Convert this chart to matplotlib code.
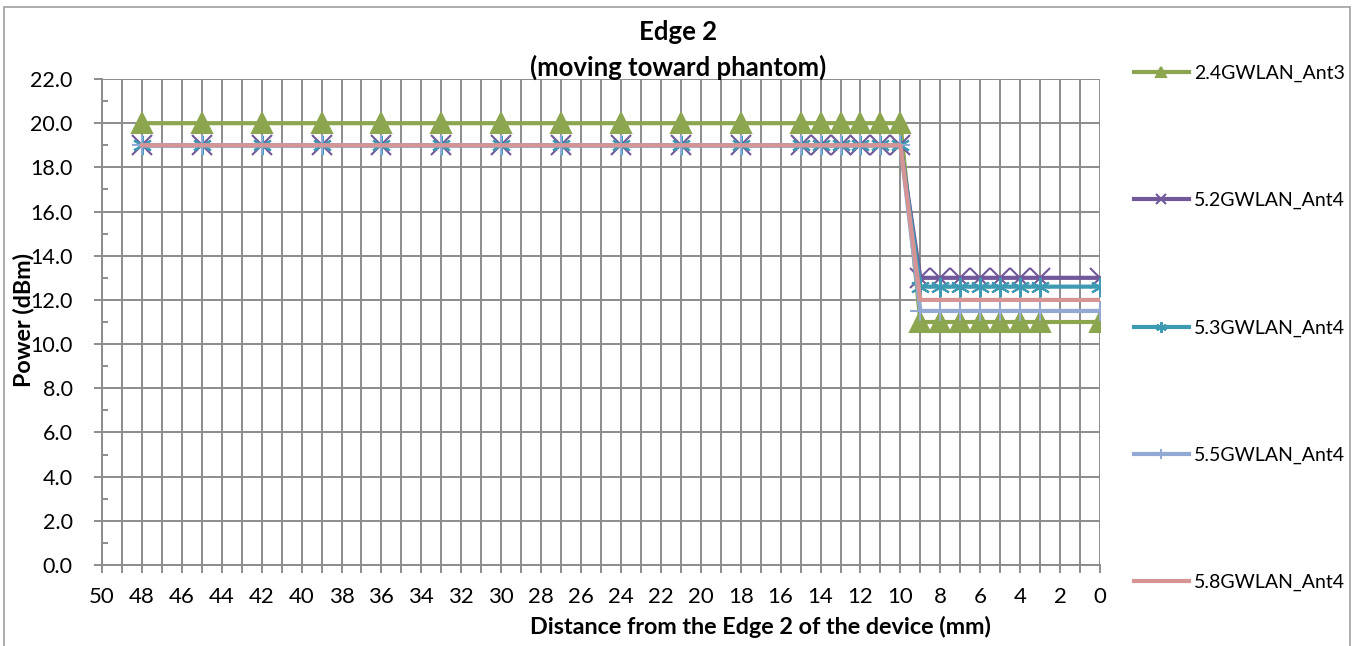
import numpy as np
import matplotlib
matplotlib.use("Agg")
import matplotlib.pyplot as plt
from matplotlib.patches import Rectangle

plt.rcParams['font.family'] = ['Lato', 'DejaVu Sans']

#%% data

dist = [48, 45, 42, 39, 36, 33, 30, 27, 24, 21, 18, 15, 14, 13, 12, 11, 10,
        9, 8, 7, 6, 5, 4, 3, 0]
n_far = 17   # points at 10 mm and beyond
n_near = 8   # points at 9 mm and closer

wlan24_ant3 = [20.0] * n_far + [11.0] * n_near
wlan52_ant4 = [19.0] * n_far + [13.0] * n_near
wlan53_ant4 = [19.0] * n_far + [12.6] * n_near
wlan55_ant4 = [19.0] * n_far + [11.5] * n_near
wlan58_ant4 = [19.0] * n_far + [12.0] * n_near

series = [
    ("2.4GWLAN_Ant3", wlan24_ant3, "#8BA64F", "^"),
    ("5.2GWLAN_Ant4", wlan52_ant4, "#71589B", "x"),
    ("5.3GWLAN_Ant4", wlan53_ant4, "#3E9AB3", (6, 2, 0)),
    ("5.5GWLAN_Ant4", wlan55_ant4, "#91A9D3", "+"),
    ("5.8GWLAN_Ant4", wlan58_ant4, "#D69594", None),
]

#%% plot

W, H = 1359, 646
fig = plt.figure(figsize=(W / 100, H / 100), dpi=100)
ax = fig.add_axes([102 / W, 1 - 565 / H, (1100 - 102) / W, (565 - 79) / H])

for name, vals, col, mk in series:
    ax.plot(dist, vals, color=col, lw=3, marker=mk, ms=14, mew=1.5,
            mfc=col, mec=col, label=name, zorder=3)

gridcol = "#8C8C8C"
ax.set_xlim(50, 0)
ax.set_ylim(0, 22)
ax.set_xticks(np.arange(0, 51, 2))
ax.set_xticks(np.arange(1, 50, 2), minor=True)
ax.set_yticks(np.arange(0, 22.1, 2))
ax.set_yticks(np.arange(1, 22, 2), minor=True)
ax.set_yticklabels(["%.1f" % v for v in np.arange(0, 22.1, 2)])
ax.grid(True, which="major", color=gridcol, lw=1.4)
ax.grid(True, which="minor", axis="x", color=gridcol, lw=1.4)
ax.tick_params(axis="x", which="both", direction="out", length=6, width=1.4,
               color=gridcol, labelsize=16, pad=10)
ax.tick_params(axis="y", which="major", direction="out", length=6, width=1.4,
               color=gridcol, labelsize=15.5, pad=15)
ax.tick_params(axis="y", which="minor", direction="in", length=4, width=1.4,
               color=gridcol)
for s in ["top", "right"]:
    ax.spines[s].set_visible(False)
for s in ["left", "bottom"]:
    ax.spines[s].set_color(gridcol)
    ax.spines[s].set_linewidth(1.4)

fig.text(678 / W, 1 - 32 / H, "Edge 2", ha="center", va="center",
         fontsize=18.5, fontweight="bold")
fig.text(678 / W, 1 - 67 / H, "(moving toward phantom)", ha="center",
         va="center", fontsize=18.5, fontweight="bold")
fig.text(23 / W, 1 - 320 / H, "Power (dBm)", rotation=90, ha="center",
         va="center", fontsize=16.8, fontweight="bold")
fig.text(760 / W, 1 - 627 / H, "Distance from the Edge 2 of the device (mm)",
         ha="center", va="center", fontsize=16.8, fontweight="bold")

fig.legend(loc="upper left", bbox_to_anchor=(1126 / W, 1 - 57 / H),
           frameon=False, fontsize=14, numpoints=1, handlelength=2.83,
           handletextpad=0.25, labelspacing=5.66, borderaxespad=0,
           markerscale=0.55)

# outer chart border
fig.patches.append(Rectangle((4 / W, -0.05), (1350 - 4) / W, 1 - 7 / H + 0.05,
                             transform=fig.transFigure, fill=False,
                             edgecolor="#A0A0A0", lw=1.2))

fig.savefig("out.png", dpi=100)
